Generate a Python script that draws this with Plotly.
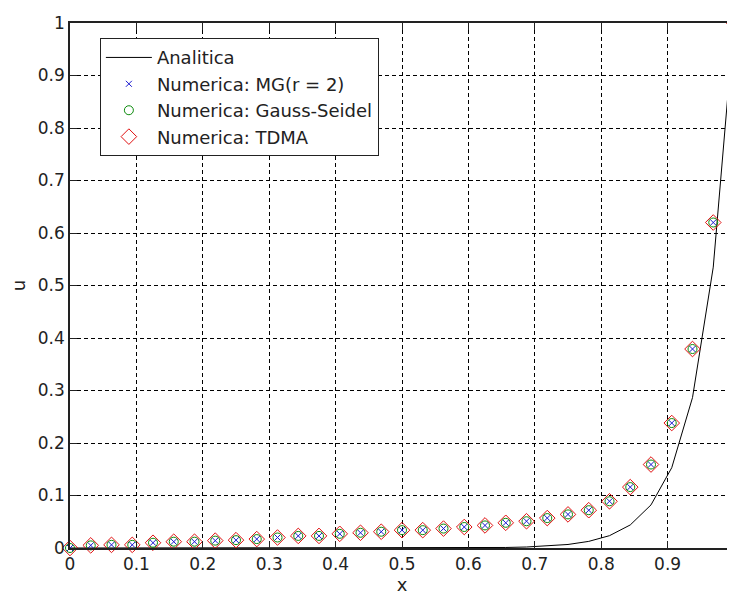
import plotly.graph_objects as go

# x grid (33 nodes, h = 1/32)
x_nodes = [i / 32 for i in range(33)]

# Analytic solution at the same nodes
u_analitica = [0, 0, 0, 0, 0, 0, 0, 0, 0, 0, 0, 0, 0, 0, 0, 0, 0,
               0.0001, 0.0002, 0.0003, 0.0006, 0.0010, 0.0019, 0.0036,
               0.0067, 0.0126, 0.0235, 0.0439, 0.0821, 0.153, 0.2865,
               0.535, 1.0]

# Numeric solutions (all three coincide)
u_numerica = [0.0, 0.005, 0.006, 0.006, 0.010, 0.012, 0.012, 0.014, 0.015,
              0.017, 0.020, 0.023, 0.023, 0.027, 0.029, 0.031, 0.034, 0.034,
              0.037, 0.040, 0.043, 0.048, 0.051, 0.057, 0.064, 0.072, 0.089,
              0.116, 0.159, 0.238, 0.379, 0.620, 1.0]

tick_vals = [0, 0.1, 0.2, 0.3, 0.4, 0.5, 0.6, 0.7, 0.8, 0.9, 1]
tick_text = ["0", "0.1", "0.2", "0.3", "0.4", "0.5", "0.6", "0.7", "0.8", "0.9", "1"]

series_names = ["Analitica", "Numerica: MG(r = 2)", "Numerica: Gauss-Seidel", "Numerica: TDMA"]

FONT = "DejaVu Sans, Verdana, sans-serif"

fig = go.Figure()
fig.add_trace(go.Scatter(x=x_nodes, y=u_analitica, mode="lines", name=series_names[0],
                         line=dict(color="black", width=1), cliponaxis=False))
fig.add_trace(go.Scatter(x=x_nodes, y=u_numerica, mode="markers", name=series_names[1],
                         marker=dict(symbol="x-thin-open", size=6, color="#1a1ad0",
                                     line=dict(color="#1a1ad0", width=1)), cliponaxis=False))
fig.add_trace(go.Scatter(x=x_nodes, y=u_numerica, mode="markers", name=series_names[2],
                         marker=dict(symbol="circle-open", size=9, color="#0a8a0a",
                                     line=dict(width=1)), cliponaxis=False))
fig.add_trace(go.Scatter(x=x_nodes, y=u_numerica, mode="markers", name=series_names[3],
                         marker=dict(symbol="diamond-open", size=12, color="#e01010",
                                     line=dict(width=1)), cliponaxis=False))

axis_common = dict(
    range=[0, 1], tickmode="array", tickvals=tick_vals, ticktext=tick_text,
    showgrid=True, gridcolor="black", gridwidth=1, griddash="4px,3px",
    showline=True, linecolor="#222222", linewidth=1.5, mirror="ticks",
    ticks="inside", ticklen=7, tickcolor="#222222", zeroline=False,
    tickfont=dict(family=FONT, size=17, color="#222222"),
)

fig.update_layout(
    width=735, height=596,
    margin=dict(l=62, r=9, t=15, b=56, autoexpand=False),
    paper_bgcolor="white", plot_bgcolor="white",
    font=dict(family=FONT, size=17, color="#222222"),
    xaxis=dict(**axis_common, title=dict(text="x", standoff=2,
                                         font=dict(family=FONT, size=18))),
    yaxis=dict(**axis_common, title=dict(text="u", standoff=10,
                                         font=dict(family=FONT, size=18))),
    legend=dict(x=0.045, y=0.971, xanchor="left", yanchor="top",
                bgcolor="white", bordercolor="#222222", borderwidth=1,
                font=dict(family=FONT, size=18, color="#222222"),
                tracegroupgap=0, itemwidth=46),
    showlegend=True,
)

fig.write_html("out.html")
